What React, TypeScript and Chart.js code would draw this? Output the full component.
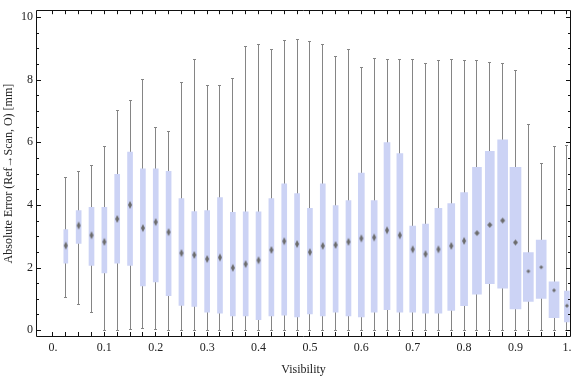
import React, { useEffect, useRef } from "react";
import { Chart, registerables } from "chart.js";

Chart.register(...registerables);

// ---- data ----
const visibility = [
  0.025, 0.05, 0.075, 0.1, 0.125, 0.15, 0.175, 0.2, 0.225, 0.25,
  0.275, 0.3, 0.325, 0.35, 0.375, 0.4, 0.425, 0.45, 0.475, 0.5,
  0.525, 0.55, 0.575, 0.6, 0.625, 0.65, 0.675, 0.7, 0.725, 0.75,
  0.775, 0.8, 0.825, 0.85, 0.875, 0.9, 0.925, 0.95, 0.975, 1.0,
];
const whiskerMin = [
  1.07, 0.84, 0.57, 0, 0, 0.02, 0.08, 0.02, 0, 0,
  0, 0, 0, 0, 0, 0, 0, 0, 0, 0,
  0, 0, 0, 0, 0, 0, 0, 0, 0, 0,
  0, 0, 0, 0, 0, 0, 0, 0, 0, 0,
];
const lowerQuartile = [
  2.14, 2.77, 2.07, 1.83, 2.14, 2.07, 1.41, 1.54, 1.10, 0.79,
  0.76, 0.57, 0.54, 0.45, 0.45, 0.33, 0.45, 0.48, 0.42, 0.52,
  0.45, 0.57, 0.45, 0.42, 0.57, 0.65, 0.57, 0.57, 0.54, 0.54,
  0.63, 0.78, 1.15, 1.48, 1.34, 0.68, 0.92, 1.01, 0.40, 0.26,
];
const median = [
  2.70, 3.34, 3.03, 2.82, 3.55, 4.00, 3.26, 3.45, 3.13, 2.46,
  2.40, 2.27, 2.32, 1.99, 2.11, 2.23, 2.56, 2.84, 2.75, 2.49,
  2.69, 2.72, 2.82, 2.93, 2.96, 3.19, 3.03, 2.58, 2.43, 2.58,
  2.69, 2.85, 3.10, 3.36, 3.50, 2.80, 1.88, 2.01, 1.27, 0.78,
];
const upperQuartile = [
  3.21, 3.82, 3.92, 3.92, 4.98, 5.69, 5.15, 5.15, 5.07, 4.20,
  3.79, 3.82, 4.23, 3.76, 3.78, 3.78, 4.20, 4.67, 4.36, 3.89,
  4.67, 3.98, 4.14, 5.02, 4.14, 5.99, 5.64, 3.32, 3.39, 3.89,
  4.04, 4.39, 5.20, 5.71, 6.08, 5.20, 2.48, 2.88, 1.54, 1.25,
];
const whiskerMax = [
  4.89, 5.07, 5.29, 5.88, 7.04, 7.36, 8.01, 6.48, 6.37, 7.93,
  8.65, 7.84, 7.84, 8.06, 9.08, 9.14, 8.97, 9.28, 9.30, 9.25,
  9.14, 8.77, 8.99, 8.42, 8.69, 8.65, 8.65, 8.65, 8.52, 8.62,
  8.65, 8.62, 8.62, 8.58, 8.52, 8.30, 6.58, 5.33, 5.88, 5.92,
];
const xTickLabels = [0, 0.1, 0.2, 0.3, 0.4, 0.5, 0.6, 0.7, 0.8, 0.9, 1];
const yTickLabels = [0, 2, 4, 6, 8, 10];
const xTitle = "Visibility";
const yTitle = "Absolute Error (Ref\u2192Scan, O) [mm]";

// ---- styles ----
const boxPixelWidths = [
  4, 5, 5, 5, 5, 5, 5, 5, 5, 5,
  5, 5, 5, 5, 5, 5, 5, 5, 5, 5,
  5, 5, 5, 6, 6, 6, 6, 6, 6, 7,
  7, 7, 9, 9, 10, 11, 10, 10, 10, 5,
];
const markerKind = [
  "t", "t", "t", "t", "t", "t", "t", "t", "t", "t",
  "t", "t", "t", "t", "t", "t", "t", "t", "t", "t",
  "t", "t", "t", "t", "t", "t", "t", "t", "t", "t",
  "t", "t", "m", "m", "m", "m", "s", "s", "s", "s",
];
const BOX_COLOR = "#ccd3f5";
const WHISKER_COLOR = "#858585";
const MEDIAN_COLOR = "#6c6c6c";
const FRAME_COLOR = "#111111";
const FONT = "'Liberation Serif', 'DejaVu Serif', serif";

function makeDiamond(w: number, h: number): HTMLCanvasElement {
  const c = document.createElement("canvas");
  c.width = w + 2;
  c.height = h + 2;
  const g = c.getContext("2d")!;
  const cx = c.width / 2;
  const cy = c.height / 2;
  g.fillStyle = MEDIAN_COLOR;
  g.beginPath();
  g.moveTo(cx, cy - h / 2);
  g.lineTo(cx + w / 2, cy);
  g.lineTo(cx, cy + h / 2);
  g.lineTo(cx - w / 2, cy);
  g.closePath();
  g.fill();
  return c;
}

// whiskers + caps, drawn under the boxes, pixel-snapped
const whiskerPlugin = {
  id: "whiskers",
  beforeDatasetsDraw(chart: any) {
    const { ctx, chartArea: a, scales } = chart;
    const xs = scales.x;
    const ys = scales.y;
    ctx.save();
    ctx.beginPath();
    ctx.rect(a.left, a.top, a.right - a.left, a.bottom - a.top);
    ctx.clip();
    ctx.fillStyle = WHISKER_COLOR;
    visibility.forEach((v, i) => {
      const px = Math.round(xs.getPixelForValue(v) - 0.5);
      const yTop = Math.round(ys.getPixelForValue(whiskerMax[i]));
      const yBot = Math.round(ys.getPixelForValue(whiskerMin[i]));
      ctx.fillRect(px, yTop, 1, yBot - yTop + 1);
      ctx.fillRect(px - 1, yTop, 3, 1);
      ctx.fillRect(px - 1, yBot, 3, 1);
    });
    ctx.restore();
  },
};

const framePlugin = {
  id: "mmaFrame",
  afterDatasetsDraw(chart: any) {
    const { ctx, chartArea: a, scales } = chart;
    const xs = scales.x;
    const ys = scales.y;
    ctx.save();
    ctx.strokeStyle = FRAME_COLOR;
    ctx.lineWidth = 1;
    ctx.beginPath();
    ctx.rect(Math.round(a.left) + 0.5, Math.round(a.top) + 0.5,
      Math.round(a.right - a.left) - 1, Math.round(a.bottom - a.top) - 1);
    const xt = [0, ...visibility];
    xt.forEach((v) => {
      const px = Math.round(xs.getPixelForValue(v) - 0.5) + 0.5;
      ctx.moveTo(px, a.bottom);
      ctx.lineTo(px, a.bottom - 5);
      ctx.moveTo(px, a.top);
      ctx.lineTo(px, a.top + 4);
    });
    for (let k = 0; k <= 20; k++) {
      const v = k * 0.5;
      const py = Math.round(ys.getPixelForValue(v)) + 0.5;
      const len = yTickLabels.includes(v) ? 5 : 3;
      ctx.moveTo(a.left, py);
      ctx.lineTo(a.left + len, py);
      ctx.moveTo(a.right, py);
      ctx.lineTo(a.right - len, py);
    }
    ctx.stroke();
    ctx.restore();
  },
};

export default function App() {
  const ref = useRef<HTMLCanvasElement | null>(null);

  useEffect(() => {
    document.body.style.margin = "0";
    const canvas = ref.current;
    if (!canvas) return;

    const markers: Record<string, HTMLCanvasElement> = {
      t: makeDiamond(4, 8),
      m: makeDiamond(5, 6),
      s: makeDiamond(4, 4),
    };

    const datasets: any[] = [];
    datasets.push({
      type: "scatter",
      data: visibility.map((x, i) => ({ x, y: median[i] })),
      pointStyle: (c: any) => markers[markerKind[c.dataIndex]],
      pointRadius: 3,
      order: 0,
    });
    visibility.forEach((x, i) => {
      datasets.push({
        type: "bar",
        data: [{ x, y: [lowerQuartile[i], upperQuartile[i]] }],
        backgroundColor: BOX_COLOR,
        borderWidth: 0,
        barThickness: boxPixelWidths[i],
        grouped: false,
        order: 2,
      });
    });

    const chart = new Chart(canvas, {
      type: "bar",
      data: { datasets },
      plugins: [whiskerPlugin, framePlugin],
      options: {
        animation: false,
        responsive: false,
        maintainAspectRatio: false,
        events: [],
        layout: { padding: { left: 0, right: 2, top: 4, bottom: 0 } },
        plugins: { legend: { display: false }, tooltip: { enabled: false } },
        scales: {
          x: {
            type: "linear",
            min: -0.033,
            max: 1.008,
            offset: false,
            grid: { display: false, drawTicks: false },
            border: { display: false },
            afterBuildTicks: (s: any) => {
              s.ticks = xTickLabels.map((value) => ({ value }));
            },
            afterFit: (s: any) => {
              s.height = 40;
            },
            ticks: {
              autoSkip: false,
              maxRotation: 0,
              padding: 4,
              color: "#222",
              font: { family: FONT, size: 12 },
              callback: (v: any) =>
                v === 0 ? "0." : v === 1 ? "1." : Number(v).toFixed(1),
            },
            title: {
              display: true,
              text: xTitle,
              color: "#222",
              font: { family: FONT, size: 12 },
              padding: { top: 0, bottom: 0 },
            },
          },
          y: {
            type: "linear",
            min: -0.22,
            max: 10.22,
            grid: { display: false, drawTicks: false },
            border: { display: false },
            afterBuildTicks: (s: any) => {
              s.ticks = yTickLabels.map((value) => ({ value }));
            },
            afterFit: (s: any) => {
              s.width = 36;
            },
            ticks: {
              padding: 3,
              color: "#222",
              font: { family: FONT, size: 12 },
              callback: (v: any) => String(v),
            },
            title: {
              display: true,
              text: yTitle,
              color: "#222",
              font: { family: FONT, size: 12 },
              padding: { top: 2, bottom: 0 },
            },
          },
        },
      },
    });

    return () => chart.destroy();
  }, []);

  return (
    <div style={{ width: 576, height: 377 }}>
      <canvas ref={ref} width={576} height={377} style={{ display: "block" }} />
    </div>
  );
}
